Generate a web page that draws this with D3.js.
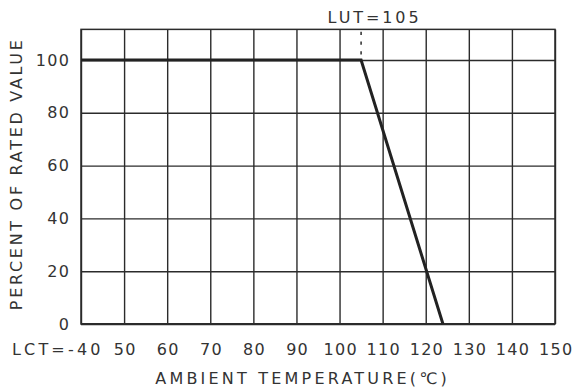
<!DOCTYPE html>
<html>
<head>
<meta charset="utf-8">
<script src="https://cdn.jsdelivr.net/npm/d3@7"></script>
<style>
  html, body { margin: 0; padding: 0; background: #fff; }
  svg text { font-family: "DejaVu Sans", "Liberation Sans", sans-serif; fill: #333; }
</style>
</head>
<body>
<svg id="chart" width="580" height="390"></svg>
<script>
// ---- data ----
const tempTicks = [-40, 50, 60, 70, 80, 90, 100, 110, 120, 130, 140, 150];
const tempLabels = ["LCT=-40", "50", "60", "70", "80", "90", "100", "110", "120", "130", "140", "150"];
const pctTicks = [0, 20, 40, 60, 80, 100];
const pctLabels = ["0", "20", "40", "60", "80", "100"];
const curveTemp = [-40, 105, 124];
const curvePct = [100, 100, 0];
const lutTemp = 105;
const lutLabel = "LUT=105";
const pctTop = 111.6;
const xTitle = "AMBIENT TEMPERATURE(\u2103)";
const yTitle = "PERCENT OF RATED VALUE";

// ---- layout ----
const svg = d3.select("#chart");
const pLeft = 81, pRight = 555;
const step = (pRight - pLeft) / 11;
const x = d3.scaleLinear().domain([-40, 50, 150]).range([pLeft, pLeft + step, pRight]);
const y = d3.scaleLinear().domain([0, 100]).range([324, 60]);
const pTop = y(pctTop), pBottom = y(0);
const lineCol = "#2b2b2b";
const font = "DejaVu Sans, Liberation Sans, sans-serif";
const fs = 16, ls = 1.3;

// vertical grid
svg.append("g")
  .attr("transform", `translate(0,${pBottom})`)
  .call(d3.axisBottom(x).tickValues(tempTicks).tickSize(-(pBottom - pTop)).tickFormat(""))
  .call(g => g.select(".domain").remove())
  .call(g => g.selectAll("line").attr("stroke", lineCol).attr("stroke-width", 1.4));

// horizontal grid
svg.append("g")
  .attr("transform", `translate(${pLeft},0)`)
  .call(d3.axisLeft(y).tickValues(pctTicks).tickSize(-(pRight - pLeft)).tickFormat(""))
  .call(g => g.select(".domain").remove())
  .call(g => g.selectAll("line").attr("stroke", lineCol).attr("stroke-width", 1.4));

// frame
svg.append("rect")
  .attr("x", pLeft).attr("y", pTop)
  .attr("width", pRight - pLeft).attr("height", pBottom - pTop)
  .attr("fill", "none").attr("stroke", lineCol).attr("stroke-width", 1.5);
svg.append("line")
  .attr("x1", pLeft).attr("x2", pRight).attr("y1", pBottom).attr("y2", pBottom)
  .attr("stroke", lineCol).attr("stroke-width", 2);

// x labels
const xl = svg.append("g")
  .attr("transform", `translate(0,${pBottom})`)
  .call(d3.axisBottom(x).tickValues(tempTicks).tickSize(0).tickPadding(20)
    .tickFormat((d, i) => tempLabels[i]));
xl.select(".domain").remove();
xl.selectAll("text")
  .attr("font-size", fs).attr("letter-spacing", ls).attr("dx", ls / 2)
  .attr("font-family", font)
  .style("fill", "#333");
xl.selectAll(".tick").filter(d => d === tempTicks[0]).select("text")
  .attr("text-anchor", "end").attr("letter-spacing", 3.2).attr("dx", 19 + 3.2);

// y labels
const yl = svg.append("g")
  .attr("transform", `translate(${pLeft},0)`)
  .call(d3.axisLeft(y).tickValues(pctTicks).tickSize(0).tickPadding(12 - ls)
    .tickFormat((d, i) => pctLabels[i]));
yl.select(".domain").remove();
yl.selectAll("text")
  .attr("font-size", fs).attr("letter-spacing", ls)
  .attr("font-family", font)
  .style("fill", "#333");

// LUT dotted line and label
svg.append("line")
  .attr("x1", x(lutTemp)).attr("x2", x(lutTemp))
  .attr("y1", pTop).attr("y2", y(100))
  .attr("stroke", lineCol).attr("stroke-width", 1.5)
  .attr("stroke-dasharray", "3.3,6.5")
  .attr("stroke-dashoffset", 7.5);
svg.append("text")
  .attr("x", x(lutTemp) + 12 + 1.45).attr("y", 23.3)
  .attr("text-anchor", "middle")
  .attr("font-size", fs).attr("letter-spacing", 2.9)
  .text(lutLabel);

// derating curve
const pts = curveTemp.map((t, i) => [t, curvePct[i]]);
svg.append("path")
  .datum(pts)
  .attr("d", d3.line().x(d => x(d[0])).y(d => y(d[1])))
  .attr("fill", "none").attr("stroke", "#222").attr("stroke-width", 3)
  .attr("stroke-linejoin", "miter");

// axis titles
svg.append("text")
  .attr("x", 301 + 1.6).attr("y", 383.5)
  .attr("text-anchor", "middle")
  .attr("font-size", fs).attr("letter-spacing", 3.2)
  .text(xTitle);
svg.append("text")
  .attr("transform", "translate(22,173.8) rotate(-90)")
  .attr("text-anchor", "middle")
  .attr("font-size", fs).attr("letter-spacing", 2.7)
  .text(yTitle);
</script>
</body>
</html>
